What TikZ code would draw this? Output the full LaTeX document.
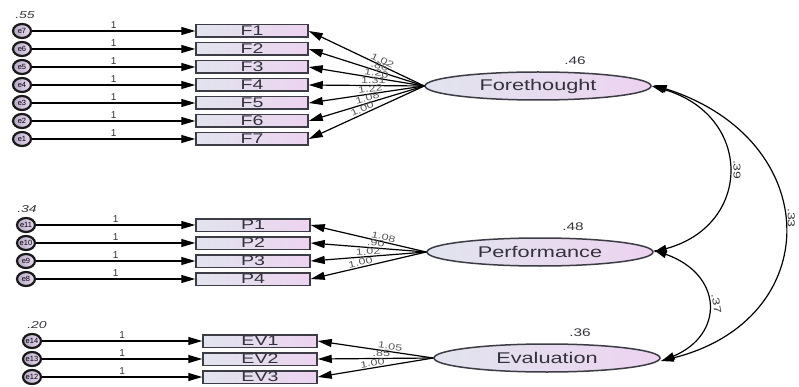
\documentclass[tikz,border=0pt]{standalone}
\usepackage{fontspec}
\setmainfont{Liberation Sans}
\usepackage{graphicx}
\usetikzlibrary{arrows.meta,shapes.geometric}
\definecolor{cL}{HTML}{E1E4EE}
\definecolor{cR}{HTML}{EDD3F0}
\definecolor{edgec}{HTML}{3C3C44}
\definecolor{eL}{HTML}{B5A8C6}
\definecolor{eR}{HTML}{E9DAF0}
\definecolor{txt}{HTML}{33333B}
\newcommand{\hs}[1]{\scalebox{1.4}[1]{#1}}
\begin{document}
\begin{tikzpicture}[x=1pt,y=-1pt,
 obs/.style={draw=edgec, line width=1.5pt, rectangle, minimum width=112pt, minimum height=12.5pt, inner sep=0pt, left color=cL, right color=cR, text=txt, font=\fontsize{14}{14}\selectfont},
 lat/.style={draw=edgec, line width=1.5pt, ellipse, minimum width=226pt, minimum height=28pt, inner sep=0pt, left color=cL, right color=cR, text=txt, font=\fontsize{15.5}{15.5}\selectfont},
 err/.style={draw=black!90, line width=2.2pt, ellipse, minimum width=18pt, minimum height=14pt, inner sep=0pt, left color=eL, right color=eR, font=\fontsize{7.5}{7.5}\selectfont},
 arr/.style={line width=1.2pt, -{Triangle[length=14pt,width=8pt]}},
 bi/.style={line width=1.2pt, {Triangle[length=13pt,width=7.5pt]}-{Triangle[length=13pt,width=7.5pt]}},
 one/.style={font=\fontsize{10}{10}\selectfont, above, inner sep=2pt, text=txt},
 ld/.style={font=\fontsize{9}{9}\selectfont, sloped, above, inner sep=1.2pt, text=black!65},
 var/.style={font=\fontsize{11}{11}\selectfont, text=txt}]
\useasboundingbox (0,0) rectangle (799,387);

% latent variables
\node[lat] (Fore) at (538,86) {\hs{Forethought}};
\node[lat] (Perf) at (540,252) {\hs{Performance}};
\node[lat] (Eval) at (547,358) {\hs{Evaluation}};
\node[var] (vF) at (575,61) {\hs{.46}};
\node[var] (vP) at (573,227) {\hs{.48}};
\node[var] (vE) at (580,333) {\hs{.36}};

% Forethought indicators
\foreach \i/\y/\e/\l/\p in {1/31/e7/1.02/0.38, 2/49/e6/.86/0.40, 3/67/e5/1.20/0.42, 4/85/e4/1.31/0.44, 5/103/e3/1.22/0.46, 6/121/e2/1.08/0.48, 7/139/e1/1.00/0.52}{
  \node[obs] (F\i) at (252,\y) {\hs{F\i}};
  \node[err] (\e) at (22,\y) {\e};
  \draw[arr] (\e.east) -- (F\i.west) node[one, midway] {1};
  \draw[arr] (Fore.west) -- (F\i.east) node[ld, pos=\p] {\hs{\l}};
}
\node[var, font=\itshape\fontsize{10}{10}\selectfont] (vF1) at (25,15) {\hs{.55}};

% Performance indicators
\foreach \i/\y/\e/\l/\p in {1/225/e11/1.08/0.38, 2/243/e10/.90/0.44, 3/261/e9/1.02/0.50, 4/279/e8/1.00/0.56}{
  \node[obs, minimum width=114pt] (P\i) at (253,\y) {\hs{P\i}};
  \node[err] (\e) at (26,\y) {\e};
  \draw[arr] (\e.east) -- (P\i.west) node[one, midway] {1};
  \draw[arr] (Perf.west) -- (P\i.east) node[ld, pos=\p] {\hs{\l}};
}
\node[var, font=\itshape\fontsize{10}{10}\selectfont] (vP1) at (27,209) {\hs{.34}};

% Evaluation indicators
\foreach \i/\y/\e/\l/\p in {1/341/e14/1.05/0.38, 2/359/e13/.85/0.45, 3/377/e12/1.00/0.52}{
  \node[obs, minimum width=114pt] (EV\i) at (260,\y) {\hs{EV\i}};
  \node[err] (\e) at (32,\y) {\e};
  \draw[arr] (\e.east) -- (EV\i.west) node[one, midway] {1};
  \draw[arr] (Eval.west) -- (EV\i.east) node[ld, pos=\p] {\hs{\l}};
}
\node[var, font=\itshape\fontsize{10}{10}\selectfont] (vE1) at (37,325) {\hs{.20}};

% covariances
\draw[bi] (Fore.east) .. controls (753,115) and (753,225) .. (Perf.east)
  node[pos=0.5, font=\fontsize{10}{10}\selectfont, text=txt, rotate=-90, anchor=south, inner sep=5pt] {\hs{.39}};
\draw[bi] ([xshift=2pt,yshift=1pt]Fore.east) .. controls (826,140) and (826,320) .. ([yshift=-3pt]Eval.east)
  node[pos=0.47, font=\fontsize{10}{10}\selectfont, text=txt, rotate=-90, anchor=south, inner sep=4pt] {\hs{.33}};
\draw[bi] ([yshift=2pt]Perf.east) .. controls (724,275) and (724,335) .. ([xshift=1pt,yshift=-3pt]Eval.east)
  node[pos=0.5, font=\fontsize{10}{10}\selectfont, text=txt, rotate=-80, anchor=south, inner sep=5pt] {\hs{.37}};
\end{tikzpicture}
\end{document}
